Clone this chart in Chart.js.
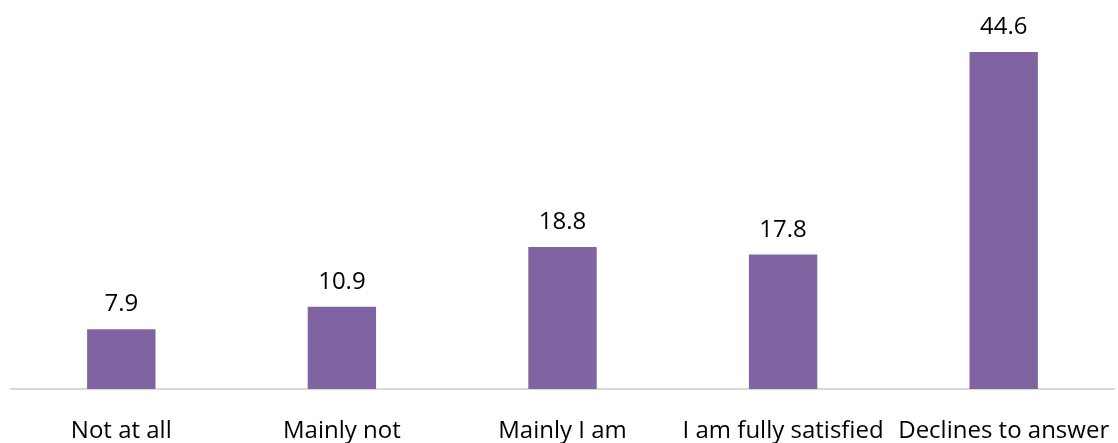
<!DOCTYPE html>
<html>
<head>
<meta charset="utf-8">
<script src="https://cdn.jsdelivr.net/npm/chart.js@4/dist/chart.umd.min.js"></script>
<style>
  html, body { margin: 0; padding: 0; background: #fff; overflow: hidden; }
  #wrap { width: 1118px; height: 443px; position: relative; }
</style>
</head>
<body>
<div id="wrap"><canvas id="chart"></canvas></div>
<script>
// Chart data
const categories = ['Not at all', 'Mainly not', 'Mainly I am', 'I am fully satisfied', 'Declines to answer'];
const values = [7.9, 10.9, 18.8, 17.8, 44.6];

const barColor = '#8064A2';
const textColor = '#000000';
const axisColor = '#D9D9D9';
const fontFamily = '"Open Sans", "Noto Sans", sans-serif';

// Simple value labels above each bar
const valueLabels = {
  id: 'valueLabels',
  afterDatasetsDraw(chart) {
    const ctx = chart.ctx;
    const meta = chart.getDatasetMeta(0);
    ctx.save();
    ctx.font = `24px ${fontFamily}`;
    ctx.fillStyle = textColor;
    ctx.textAlign = 'center';
    ctx.textBaseline = 'alphabetic';
    meta.data.forEach((bar, i) => {
      ctx.fillText(values[i].toFixed(1), bar.x, bar.y - 18);
    });
    ctx.restore();
  }
};

new Chart(document.getElementById('chart').getContext('2d'), {
  type: 'bar',
  data: {
    labels: categories,
    datasets: [{
      data: values,
      backgroundColor: barColor,
      borderWidth: 0,
      barPercentage: 0.31,
      categoryPercentage: 1.0,
    }]
  },
  options: {
    responsive: true,
    maintainAspectRatio: false,
    animation: false,
    layout: { padding: { left: 11, right: 4, top: 0, bottom: 0 } },
    plugins: {
      legend: { display: false },
      tooltip: { enabled: false },
    },
    scales: {
      x: {
        grid: { display: false, drawTicks: false },
        border: { display: true, color: axisColor, width: 2 },
        ticks: {
          color: textColor,
          font: { family: fontFamily, size: 24 },
          padding: 28,
          maxRotation: 0,
          autoSkip: false,
        },
        afterFit: (scale) => {
          scale.height = 54;
          scale.paddingLeft = 0;
          scale.paddingRight = 0;
        },
      },
      y: {
        display: false,
        min: 0,
        max: 51.5,
      }
    }
  },
  plugins: [valueLabels]
});
</script>
</body>
</html>
